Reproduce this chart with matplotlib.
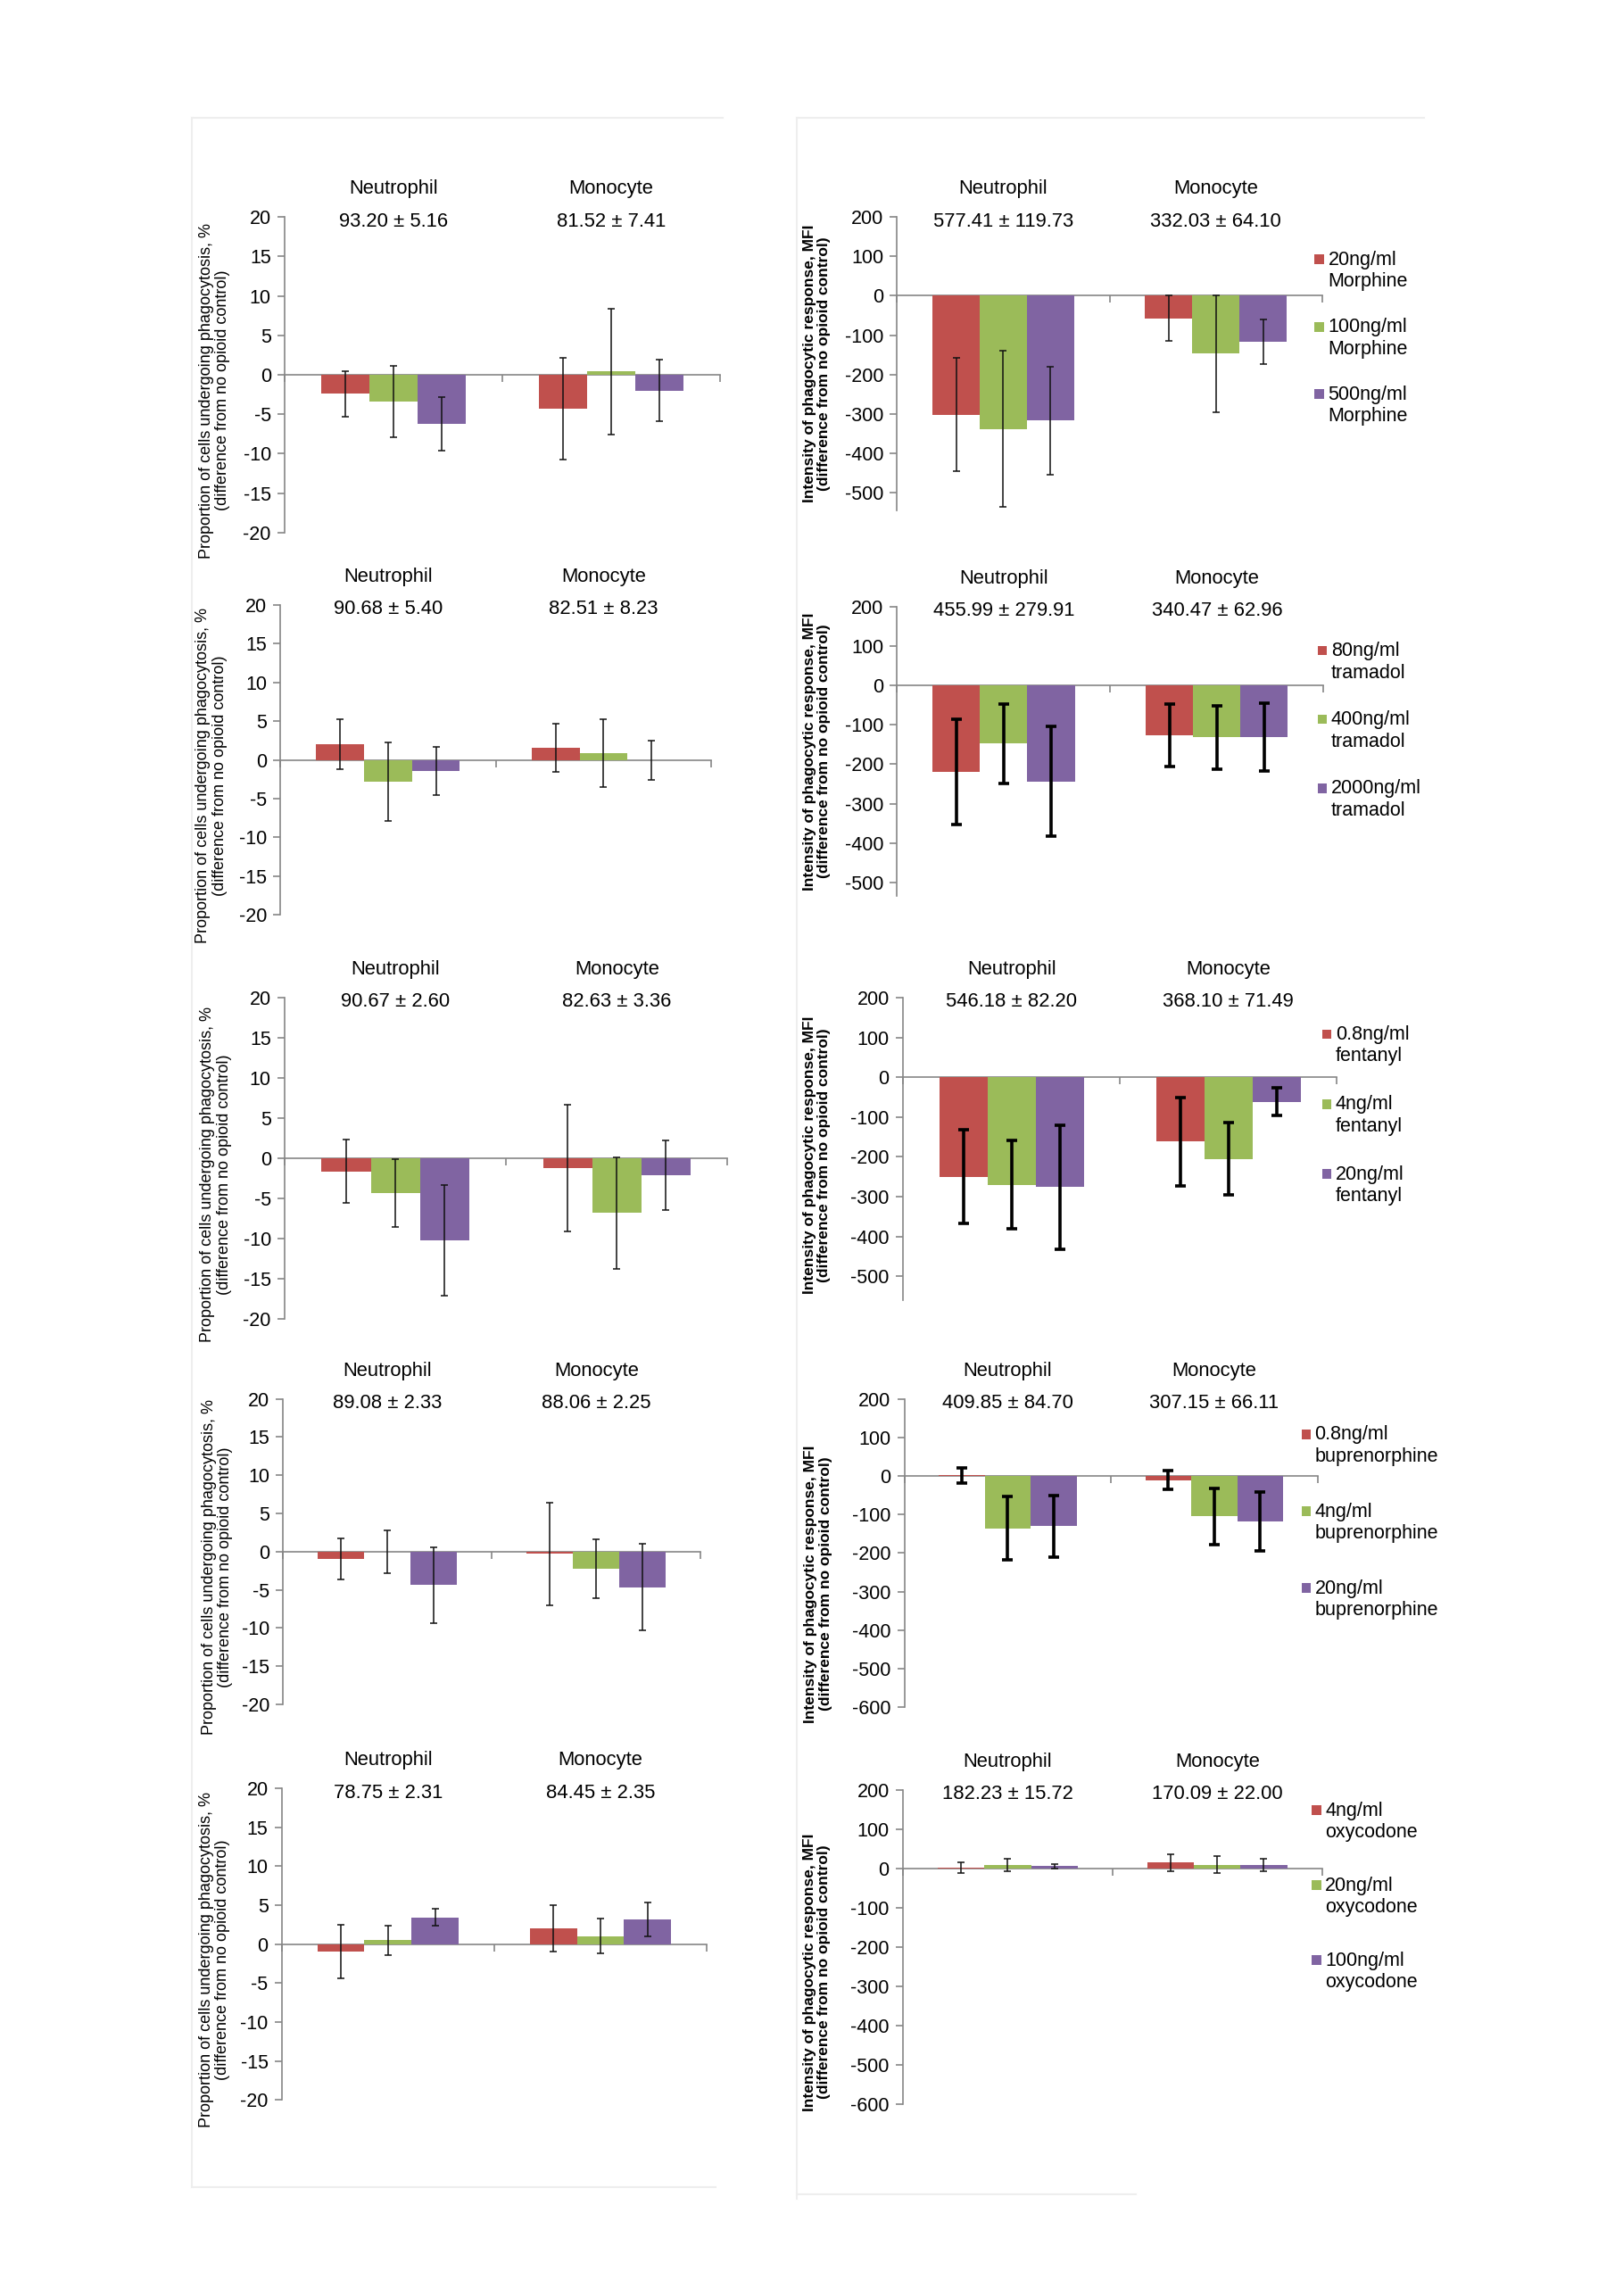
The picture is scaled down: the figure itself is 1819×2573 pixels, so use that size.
import numpy as np
import matplotlib
matplotlib.use('Agg')
import matplotlib.pyplot as plt
import matplotlib.transforms as mtransforms
from matplotlib.patches import Rectangle
from matplotlib.legend_handler import HandlerBase
from matplotlib.lines import Line2D

plt.rcParams['font.family'] = ['Liberation Sans', 'DejaVu Sans']

# ---------------------------------------------------------------------------
# Data (rows = Neutrophil, Monocyte ; columns = low, mid, high dose)
# ---------------------------------------------------------------------------
cats = ["Neutrophil", "Monocyte"]
colors = ["#C0504D", "#9BBB59", "#8064A2"]

# Morphine
morphine_doses = ["20ng/ml\nMorphine", "100ng/ml\nMorphine", "500ng/ml\nMorphine"]
morphine_pct = [[-2.4, -3.4, -6.2], [-4.3, 0.4, -2.0]]
morphine_pct_err = [[2.9, 4.5, 3.4], [6.4, 8.0, 3.9]]
morphine_mfi = [[-302, -338, -317], [-57, -147, -117]]
morphine_mfi_err = [[144, 198, 136], [58, 148, 56]]
morphine_base_pct = ["93.20 ± 5.16", "81.52 ± 7.41"]
morphine_base_mfi = ["577.41 ± 119.73", "332.03 ± 64.10"]

# Tramadol
tramadol_doses = ["80ng/ml\ntramadol", "400ng/ml\ntramadol", "2000ng/ml\ntramadol"]
tramadol_pct = [[2.0, -2.8, -1.45], [1.6, 0.9, -0.05]]
tramadol_pct_err = [[3.2, 5.1, 3.1], [3.1, 4.35, 2.55]]
tramadol_mfi = [[-220, -148, -244], [-127, -132, -132]]
tramadol_mfi_err = [[133, 101, 139], [80, 80, 86]]
tramadol_base_pct = ["90.68 ± 5.40", "82.51 ± 8.23"]
tramadol_base_mfi = ["455.99 ± 279.91", "340.47 ± 62.96"]

# Fentanyl
fentanyl_doses = ["0.8ng/ml\nfentanyl", "4ng/ml\nfentanyl", "20ng/ml\nfentanyl"]
fentanyl_pct = [[-1.6, -4.3, -10.2], [-1.2, -6.8, -2.1]]
fentanyl_pct_err = [[3.95, 4.25, 6.9], [7.85, 6.9, 4.3]]
fentanyl_mfi = [[-250, -270, -276], [-162, -205, -62]]
fentanyl_mfi_err = [[118, 111, 156], [111, 90, 35]]
fentanyl_base_pct = ["90.67 ± 2.60", "82.63 ± 3.36"]
fentanyl_base_mfi = ["546.18 ± 82.20", "368.10 ± 71.49"]

# Buprenorphine
bup_doses = ["0.8ng/ml\nbuprenorphine", "4ng/ml\nbuprenorphine", "20ng/ml\nbuprenorphine"]
bup_pct = [[-0.95, 0.0, -4.4], [-0.3, -2.25, -4.65]]
bup_pct_err = [[2.7, 2.78, 5.0], [6.7, 3.9, 5.7]]
bup_mfi = [[2, -136, -130], [-11, -105, -118]]
bup_mfi_err = [[20, 82, 80], [24, 73, 77]]
bup_base_pct = ["89.08 ± 2.33", "88.06 ± 2.25"]
bup_base_mfi = ["409.85 ± 84.70", "307.15 ± 66.11"]

# Oxycodone
oxy_doses = ["4ng/ml\noxycodone", "20ng/ml\noxycodone", "100ng/ml\noxycodone"]
oxy_pct = [[-1.0, 0.5, 3.45], [2.05, 1.05, 3.2]]
oxy_pct_err = [[3.45, 1.9, 1.05], [2.95, 2.27, 2.15]]
oxy_mfi = [[2, 9, 6], [15, 10, 9]]
oxy_mfi_err = [[13, 16, 5.5], [22, 21, 15.5]]
oxy_base_pct = ["78.75 ± 2.31", "84.45 ± 2.35"]
oxy_base_mfi = ["182.23 ± 15.72", "170.09 ± 22.00"]

pct_label = "Proportion of cells undergoing phagocytosis, %\n(difference from no opioid control)"
mfi_label = "Intensity of phagocytic response, MFI\n(difference from no opioid control)"

# ---------------------------------------------------------------------------
# Figure / layout helpers (layout measured on a 1100 px wide copy)
# ---------------------------------------------------------------------------
W, H = 1819, 2573
S = W / 1100.
AXC = "#868686"

fig = plt.figure(figsize=(W / 100., H / 100.), dpi=100)


def place(ax, xl, xr, ytop, ybot):
    ax.set_position([xl * S / W, 1 - ybot * S / H, (xr - xl) * S / W, (ybot - ytop) * S / H])


class TopSquare(HandlerBase):
    # square marker level with the first line of a two line label
    def create_artists(self, legend, orig_handle, xdescent, ydescent,
                       width, height, fontsize, trans):
        s = 0.5 * fontsize
        r = Rectangle((-xdescent, -ydescent + 0.72 * fontsize), s, s,
                      facecolor=orig_handle.get_facecolor(), edgecolor='none',
                      transform=trans)
        return [r]


def draw_panel(ax, vals, errs, base, ylim, yticks, ylabel, lab_xy, thick=False, bold=False):
    x = np.arange(len(cats))
    w = 2. / 9.
    handles = []
    for i in range(3):
        v = [vals[j][i] for j in range(len(cats))]
        e = [errs[j][i] for j in range(len(cats))]
        pos = x + (i - 1) * w
        b = ax.bar(pos, v, w, color=colors[i], zorder=2)
        handles.append(b.patches[0])
        if thick:
            ax.errorbar(pos, v, yerr=e, fmt='none', ecolor='black', elinewidth=2.6,
                        capsize=4, capthick=2.6, zorder=3)
        else:
            ax.errorbar(pos, v, yerr=e, fmt='none', ecolor='#111111', elinewidth=1.1,
                        capsize=3, capthick=1.1, zorder=3)
    ax.set_xlim(-0.5, 1.5)
    ax.set_ylim(*ylim)
    ax.set_yticks(yticks)
    ax.set_yticklabels([str(t) for t in yticks])
    for sp in ['top', 'right']:
        ax.spines[sp].set_visible(False)
    ax.spines['left'].set_color(AXC)
    ax.spines['left'].set_linewidth(1.2)
    ax.spines['bottom'].set_position(('data', 0))
    ax.spines['bottom'].set_color(AXC)
    ax.spines['bottom'].set_linewidth(1.2)
    ax.spines['bottom'].set_zorder(1)
    ax.set_xticks([-0.5, 0.5, 1.5])
    ax.set_xticklabels([])
    ax.tick_params(axis='x', direction='out', length=6, color=AXC, width=1.2)
    ax.tick_params(axis='y', direction='out', length=6, color=AXC, width=1.2,
                   labelsize=15.5, pad=5)
    ax.patch.set_alpha(0)

    trans = mtransforms.blended_transform_factory(ax.transData, ax.transAxes)
    for j, c in enumerate(cats):
        ax.annotate(c, xy=(j, 1), xycoords=trans, xytext=(0, 22.5), textcoords='offset points',
                    ha='center', va='center', fontsize=15.8)
        ax.annotate(base[j], xy=(j, 1), xycoords=trans, xytext=(0, -3.6), textcoords='offset points',
                    ha='center', va='center', fontsize=15.8)

    ax.set_ylabel(ylabel, fontsize=12.5 if bold else 13, linespacing=1.1,
                  fontweight='bold' if bold else 'normal')
    ax.yaxis.set_label_coords(*lab_xy)
    return handles


def add_legend(ax, handles, labels, x, y, spacing):
    ax.legend(handles, labels, loc='upper left', bbox_to_anchor=(x * S / W, 1 - y * S / H),
              bbox_transform=fig.transFigure, frameon=False, fontsize=15.5,
              borderpad=0, borderaxespad=0, handlelength=0.5, handletextpad=0.2,
              labelspacing=spacing, handler_map={Rectangle: TopSquare()})


# panel specs: data, axis box (x left, x right, y of top value, y of bottom), label centre x
left_rows = [
    (morphine_pct, morphine_pct_err, morphine_base_pct, 193, 488, 147, 361, 145),
    (tramadol_pct, tramadol_pct_err, tramadol_base_pct, 190, 482, 410, 620, 143),
    (fentanyl_pct, fentanyl_pct_err, fentanyl_base_pct, 193, 493, 676, 894, 146),
    (bup_pct, bup_pct_err, bup_base_pct, 192, 475, 948, 1155, 147),
    (oxy_pct, oxy_pct_err, oxy_base_pct, 191, 479, 1212, 1423, 145),
]

# right: x left, x right, y of 200, y of lowest tick, lowest tick, axis min
right_rows = [
    (morphine_mfi, morphine_mfi_err, morphine_base_mfi, morphine_doses,
     608, 896, 147, 334, -500, -545, False, (891, 170, 1.4), 552, 0.50),
    (tramadol_mfi, tramadol_mfi_err, tramadol_base_mfi, tramadol_doses,
     608, 897, 411, 598, -500, -535, True, (893, 435, 1.48), 552, 0.50),
    (fentanyl_mfi, fentanyl_mfi_err, fentanyl_base_mfi, fentanyl_doses,
     612, 906, 676, 865, -500, -560, True, (896, 695, 1.53), 552, 0.48),
    (bup_mfi, bup_mfi_err, bup_base_mfi, bup_doses,
     613, 893, 948, 1157, -600, -600, True, (882, 966, 1.9), 553, 0.40),
    (oxy_mfi, oxy_mfi_err, oxy_base_mfi, oxy_doses,
     612, 896, 1213, 1426, -600, -600, False, (889, 1221, 1.8), 552, 0.42),
]

# the y label anchor is its right edge, label block is ~11 px (1100 scale) wide on each side
for vals, errs, base, xl, xr, yt, yb, labx in left_rows:
    ax = fig.add_axes([0, 0, 1, 1])
    place(ax, xl, xr, yt, yb)
    draw_panel(ax, vals, errs, base, (-20, 20), list(range(-20, 21, 5)), pct_label,
               ((labx + 11 - xl) / float(xr - xl), 0.45))

for (vals, errs, base, doses, xl, xr, y200, ylow, vlow, vmin, thick, leg, labx, laby) in right_rows:
    ax = fig.add_axes([0, 0, 1, 1])
    per = (ylow - y200) / float(200 - vlow)
    ybot = y200 + (200 - vmin) * per
    place(ax, xl, xr, y200, ybot)
    hs = draw_panel(ax, vals, errs, base, (vmin, 200), list(range(vlow, 201, 100)), mfi_label,
                    ((labx + 11 - xl) / float(xr - xl), laby), thick=thick, bold=True)
    add_legend(ax, hs, doses, leg[0], leg[1], leg[2])

# faint borders of the pasted panels
frame = [((130, 80), (490, 80)), ((130, 80), (130, 1482)), ((130, 1482), (485, 1482)),
         ((540, 80), (965, 80)), ((540, 80), (540, 1490)), ((540, 1487), (770, 1487))]
for (x0, y0), (x1, y1) in frame:
    fig.add_artist(Line2D([x0 * S / W, x1 * S / W], [1 - y0 * S / H, 1 - y1 * S / H],
                          transform=fig.transFigure, color='#eeeeee', lw=1.5))

fig.savefig('out.png', dpi=100, facecolor='white')
